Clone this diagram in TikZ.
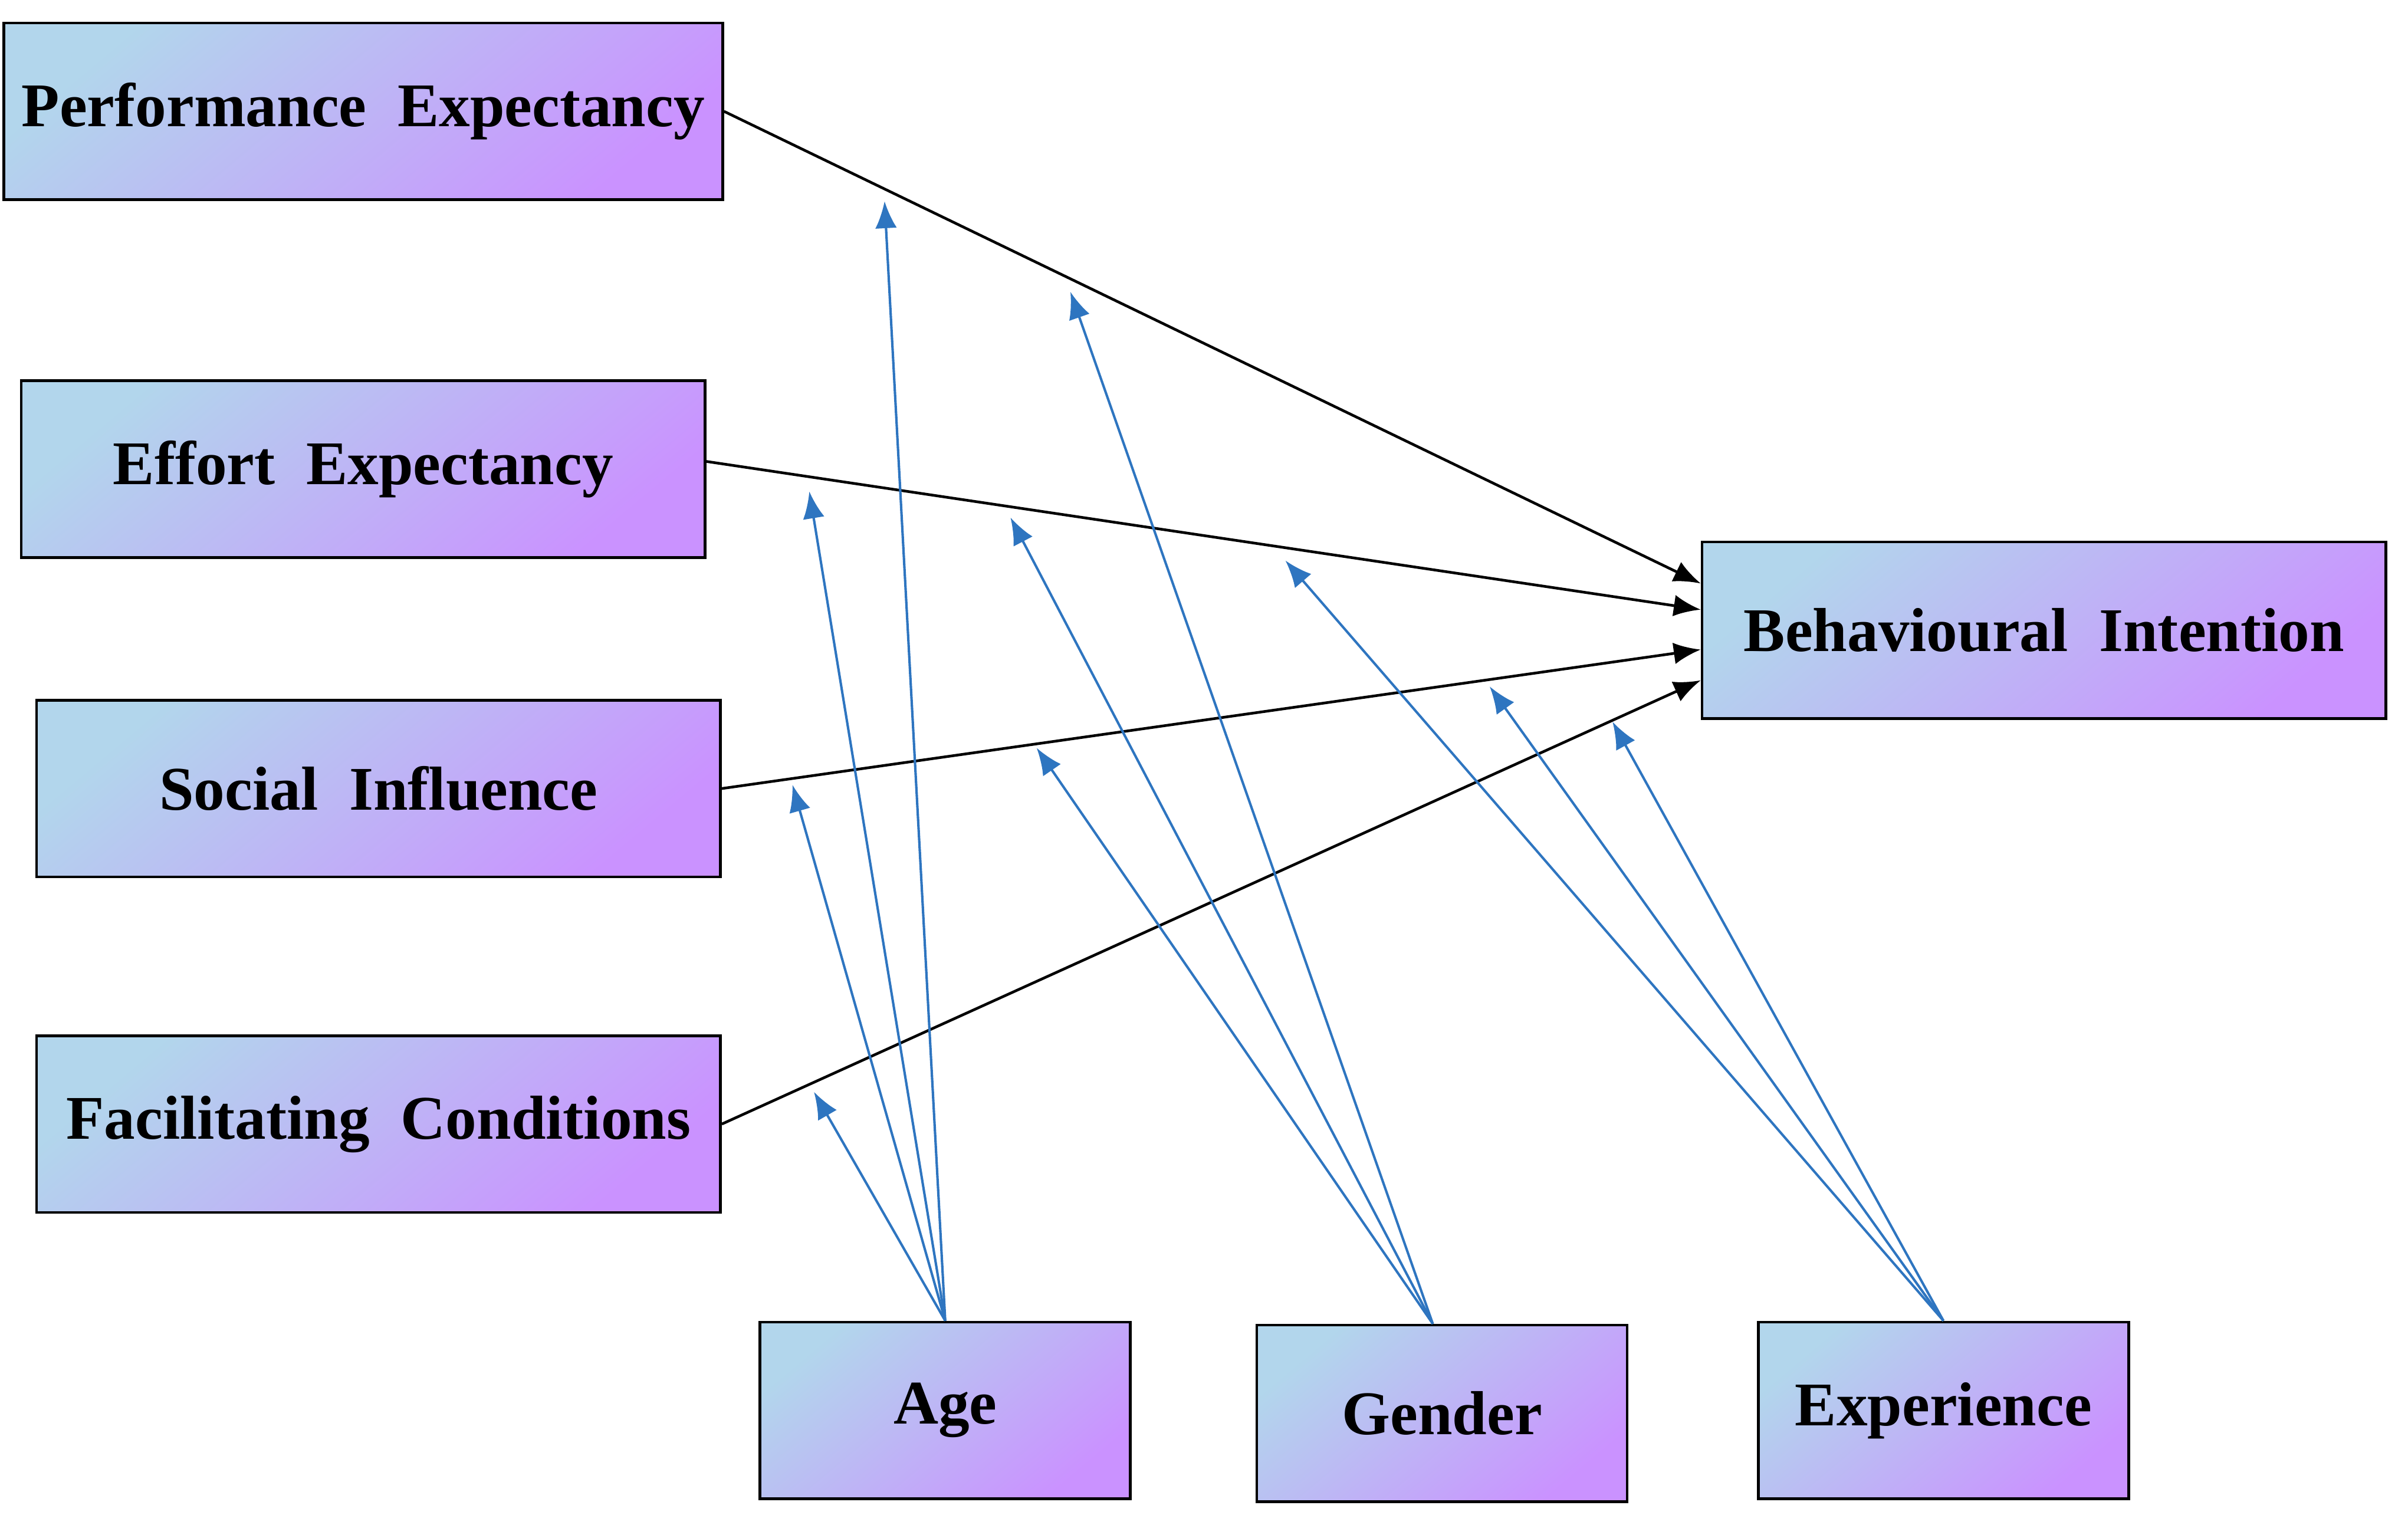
\documentclass[tikz,border=0pt]{standalone}
\usepackage{fontspec}
\setmainfont{Liberation Serif}
\usetikzlibrary{arrows.meta}
\definecolor{cA}{HTML}{B2D6EC}
\definecolor{cB}{HTML}{CA92FF}
\definecolor{blu}{HTML}{2E75C0}
\begin{document}
\begin{tikzpicture}[x=0.01cm,y=-0.01cm,
 box/.style={draw=black,line width=0.5pt,minimum width=4.45cm,minimum height=1.15cm,
   top color=cA,bottom color=cB,shading angle=40,font=\bfseries\fontsize{11.5}{13}\selectfont},
 sbox/.style={box,minimum width=2.41cm},
 blk/.style={-{Latex[length=5pt,width=4pt]},line width=0.5pt,black},
 bl/.style={-{Latex[length=5pt,width=4pt]},line width=0.45pt,blu}]
\useasboundingbox (0,0) rectangle (1568,993);
\node[box] (pe) at (236.5,72.5) {Performance\ \ Expectancy};
\node[box] (ee) at (236.5,305.5) {Effort\ \ Expectancy};
\node[box] (si) at (246.5,513.5) {Social\ \ Influence};
\node[box] (fc) at (246.5,732) {Facilitating\ \ Conditions};
\node[box] (bi) at (1331,410.5) {Behavioural\ \ Intention};
\node[sbox] (age) at (615.5,918.5) {Age};
\node[sbox] (gen) at (939,920.5) {Gender};
\node[sbox] (exp) at (1265.5,918.5) {Experience};
\draw[blk] (pe.east) -- ([yshift=0.305cm]bi.west);
\draw[blk] ([yshift=0.05cm]ee.east) -- ([yshift=0.135cm]bi.west);
\draw[blk] (si.east) -- ([yshift=-0.125cm]bi.west);
\draw[blk] (fc.east) -- ([yshift=-0.325cm]bi.west);
\coordinate (a1) at (576,131); \coordinate (a2) at (527,320);
\coordinate (a3) at (516,511); \coordinate (a4) at (530,711);
\coordinate (g1) at (697,190); \coordinate (g2) at (658,337); \coordinate (g3) at (675,487);
\coordinate (e1) at (837,365); \coordinate (e2) at (970,447); \coordinate (e3) at (1050,470);
\foreach \t in {a1,a2,a3,a4} \draw[bl] (age.north) -- (\t);
\foreach \t in {g1,g2,g3} \draw[bl] ([xshift=-0.06cm]gen.north) -- (\t);
\foreach \t in {e1,e2,e3} \draw[bl] (exp.north) -- (\t);
\end{tikzpicture}
\end{document}
